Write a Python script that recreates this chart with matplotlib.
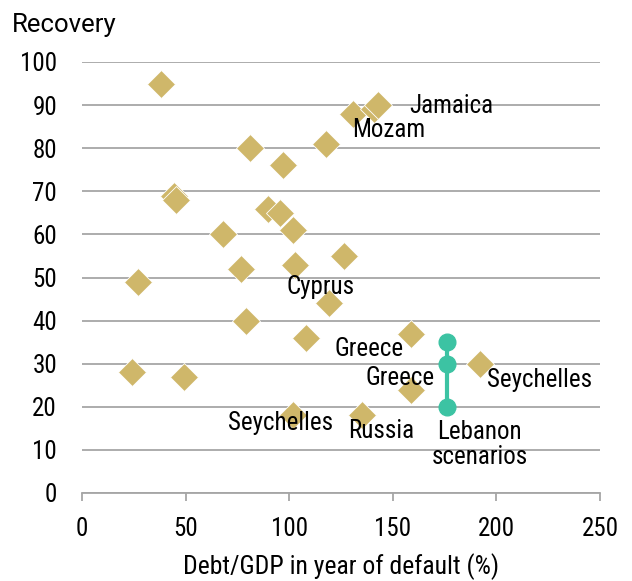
import matplotlib
matplotlib.use("Agg")
import matplotlib.pyplot as plt
from matplotlib import font_manager

# condensed face if there is one, plain Roboto otherwise
installed = {f.name for f in font_manager.fontManager.ttflist}
face = 'Roboto'
for name in ['Roboto Condensed', 'Liberation Sans Narrow']:
    if name in installed:
        face = name
        break
plt.rcParams['font.family'] = [face, 'DejaVu Sans']

# debt/GDP in year of default (%) and recovery
debt = [38, 131, 141, 143, 118, 81, 97, 44.5, 45.5, 90, 95.5, 102, 68, 126.5,
        76.5, 103, 27, 119, 79, 108, 159, 24, 49, 192, 159, 102, 135]
recovery = [95, 88, 89, 90, 81, 80, 76, 69, 68, 66, 65, 61, 60, 55,
            52, 53, 49, 44, 40, 36, 37, 28, 27, 30, 24, 18, 18]

lebanon_debt = [176, 176, 176]
lebanon_recovery = [20, 30, 35]

labels = ["Jamaica", "Mozam", "Cyprus", "Greece", "Greece", "Seychelles",
          "Seychelles", "Russia", "Lebanon\nscenarios"]
label_x = [178, 148, 115, 138.5, 153.5, 221, 96, 144.5, 192]
label_y = [89.8, 84.2, 47.8, 33.3, 26.7, 26.3, 16.2, 14.5, 11.3]

gold = '#CFB76A'
teal = '#3CC3A3'
grey = '#A6A6A6'

fig = plt.figure(figsize=(6.32, 5.81), dpi=100)
ax = fig.add_axes([82/632, 1-493/581, (600-82)/632, (493-62)/581])

ax.plot(debt, recovery, linestyle='none', marker='D', markersize=14,
        color=gold, markeredgecolor='white', markeredgewidth=0.6, zorder=3)
ax.plot(lebanon_debt, lebanon_recovery, color=teal, linewidth=3,
        marker='o', markersize=12, zorder=4)

for t, lx, ly in zip(labels, label_x, label_y):
    ax.text(lx, ly, t, ha='center', va='center', fontsize=18,
            linespacing=1.05, zorder=5)

ax.set_xlim(0, 250)
ax.set_ylim(0, 100)
ax.set_xticks(range(0, 251, 50))
ax.set_yticks(range(0, 101, 10))
ax.yaxis.grid(True, color=grey, linewidth=1.3)
ax.set_axisbelow(True)
for s in ['top', 'right', 'left']:
    ax.spines[s].set_visible(False)
ax.spines['bottom'].set_color(grey)
ax.spines['bottom'].set_linewidth(1.3)
ax.tick_params(axis='y', length=0, labelsize=18, pad=18)
ax.tick_params(axis='x', length=6, width=1.3, color=grey, labelsize=18, pad=11)
ax.set_xlabel("Debt/GDP in year of default (%)", fontsize=18.5, labelpad=9)
fig.text(12/632, 1-32/581, "Recovery", fontsize=18.5, ha='left',
         va='baseline', family=['Roboto', 'DejaVu Sans'])

fig.savefig("out.png", dpi=100)
